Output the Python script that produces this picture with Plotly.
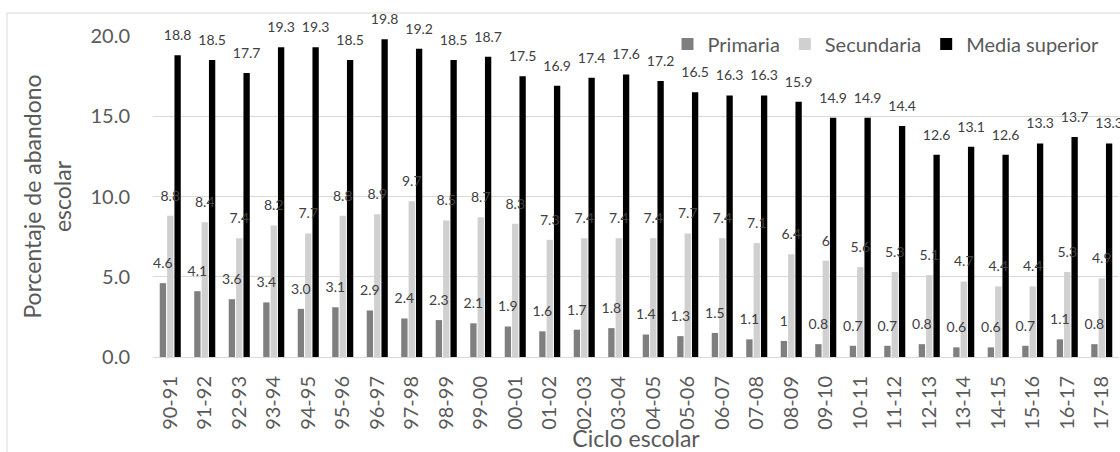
import plotly.graph_objects as go

# School years (ciclo escolar)
ciclos = ["90-91", "91-92", "92-93", "93-94", "94-95", "95-96", "96-97", "97-98",
          "98-99", "99-00", "00-01", "01-02", "02-03", "03-04", "04-05", "05-06",
          "06-07", "07-08", "08-09", "09-10", "10-11", "11-12", "12-13", "13-14",
          "14-15", "15-16", "16-17", "17-18"]

# Dropout rates (%) as published, per level
primaria_txt = ["4.6", "4.1", "3.6", "3.4", "3.0", "3.1", "2.9", "2.4", "2.3", "2.1",
                "1.9", "1.6", "1.7", "1.8", "1.4", "1.3", "1.5", "1.1", "1", "0.8",
                "0.7", "0.7", "0.8", "0.6", "0.6", "0.7", "1.1", "0.8"]
secundaria_txt = ["8.8", "8.4", "7.4", "8.2", "7.7", "8.8", "8.9", "9.7", "8.5", "8.7",
                  "8.3", "7.3", "7.4", "7.4", "7.4", "7.7", "7.4", "7.1", "6.4", "6",
                  "5.6", "5.3", "5.1", "4.7", "4.4", "4.4", "5.3", "4.9"]
media_sup_txt = ["18.8", "18.5", "17.7", "19.3", "19.3", "18.5", "19.8", "19.2", "18.5", "18.7",
                 "17.5", "16.9", "17.4", "17.6", "17.2", "16.5", "16.3", "16.3", "15.9", "14.9",
                 "14.9", "14.4", "12.6", "13.1", "12.6", "13.3", "13.7", "13.3"]

y_ticks = [0, 5, 10, 15, 20]

series = [
    ("Primaria", primaria_txt, "#7f7f7f"),
    ("Secundaria", secundaria_txt, "#d0d0d0"),
    ("Media superior", media_sup_txt, "#000000"),
]

FONT = "Lato"
AXIS_GREY = "#595959"
LABEL_GREY = "#404040"
GRID = "#d9d9d9"

W, H = 1120, 452
M_L, M_R, M_T, M_B = 153, 1, 36, 95

fig = go.Figure()

for name, txt, color in series:
    vals = [float(s) for s in txt]
    fig.add_trace(go.Bar(
        name=name, x=ciclos, y=vals, marker=dict(color=color, line=dict(width=0)),
        hoverinfo="skip",
    ))

# Value labels floating above each bar, aligned with the grouped bars
for name, txt, color in series:
    vals = [float(s) for s in txt]
    fig.add_trace(go.Scatter(
        x=ciclos, y=vals, text=txt, mode="markers+text",
        textposition="top center",
        textfont=dict(family=FONT, size=14, color=LABEL_GREY),
        marker=dict(size=17, opacity=0),
        showlegend=False, hoverinfo="skip", cliponaxis=False,
    ))

plot_w = W - M_L - M_R
plot_h = H - M_T - M_B

# Outer chart frame
fig.add_shape(
    type="rect", xref="paper", yref="paper",
    x0=(7 - M_L) / plot_w, x1=1.2,
    y0=-0.6, y1=(H - M_B - 13) / plot_h,
    line=dict(color=GRID, width=1), fillcolor="rgba(0,0,0,0)", layer="below",
)

fig.update_layout(
    width=W, height=H,
    margin=dict(l=M_L, r=M_R, t=M_T, b=M_B),
    paper_bgcolor="white", plot_bgcolor="white",
    barmode="group", bargap=0.36, bargroupgap=0.14,
    scattermode="group",
    font=dict(family=FONT, color=AXIS_GREY),
    legend=dict(
        orientation="h", x=0.985, xanchor="right", y=1.036, yanchor="top",
        font=dict(family=FONT, size=20, color=AXIS_GREY),
        bgcolor="rgba(0,0,0,0)", itemclick=False,
    ),
    xaxis=dict(
        type="category",
        tickangle=-90, tickfont=dict(family=FONT, size=20, color=AXIS_GREY),
        showgrid=False, showline=True, linecolor=GRID, linewidth=1,
        ticks="", ticklabelstandoff=10,
        title=dict(text="Ciclo escolar", font=dict(family=FONT, size=23, color=AXIS_GREY),
                   standoff=2),
        automargin=False,
    ),
    yaxis=dict(
        range=[0, 20], tickvals=y_ticks, tickformat=".1f",
        tickfont=dict(family=FONT, size=20, color=AXIS_GREY),
        showgrid=True, gridcolor=GRID, gridwidth=1, zeroline=False,
        showline=False, ticks="", ticklabelstandoff=22,
        title=dict(text="Porcentaje de abandono<br>escolar",
                   font=dict(family=FONT, size=23, color=AXIS_GREY), standoff=12),
        automargin=False,
    ),
)

fig.write_html("out.html")
